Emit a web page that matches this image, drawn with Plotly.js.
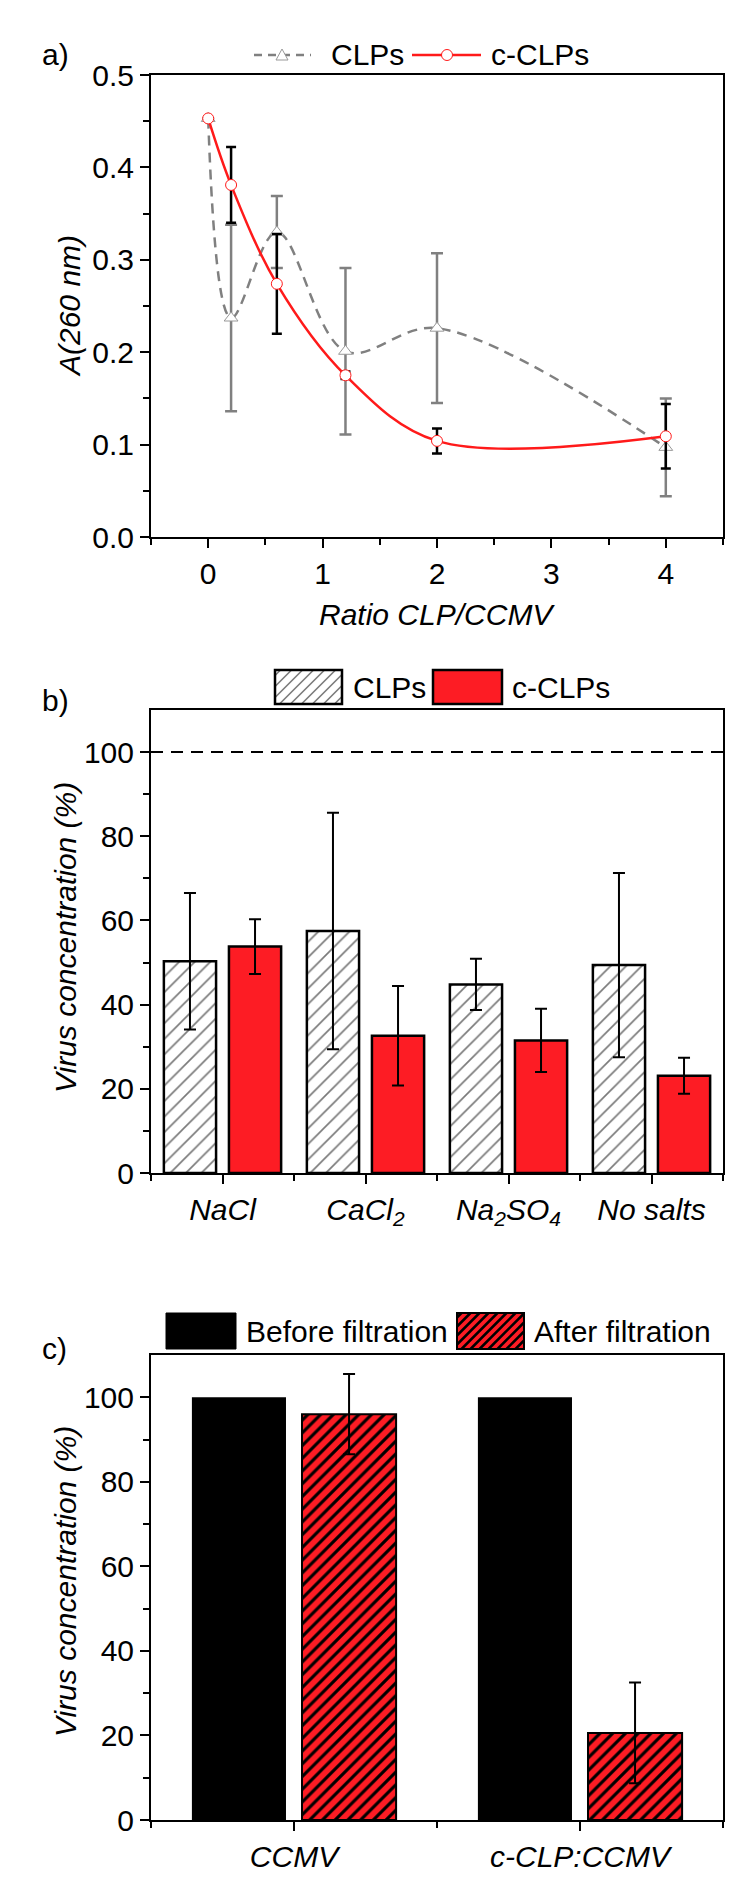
<!DOCTYPE html>
<html><head><meta charset="utf-8">
<script src="https://cdn.plot.ly/plotly-3.0.1.min.js"></script>
<style>html,body{margin:0;padding:0;background:#fff}</style>
</head><body><div id="chart" style="width:750px;height:1882px"></div>
<script>
// ---------- Panel a data ----------
const ratio = [0, 0.2, 0.6, 1.2, 2, 4];
const clpA = [0.453, 0.237, 0.330, 0.201, 0.226, 0.097];
const clpAErr = [0, 0.101, 0.039, 0.090, 0.081, 0.053];
const cclpA = [0.453, 0.381, 0.274, 0.175, 0.104, 0.109];
const cclpAErr = [0, 0.041, 0.054, 0.004, 0.0135, 0.035];
const ratioTicks = [0, 1, 2, 3, 4];
const ratioMinor = [-0.5, 0.5, 1.5, 2.5, 3.5, 4.5];
const absTicks = [0, 0.1, 0.2, 0.3, 0.4, 0.5];
const absMinor = [0.05, 0.15, 0.25, 0.35, 0.45];

// ---------- Panel b data ----------
const salts = ['<i>NaCl</i>', '<i>CaCl<sub>2</sub></i>', '<i>Na<sub>2</sub>SO<sub>4</sub></i>', '<i>No salts</i>'];
const clpB = [50.3, 57.5, 44.8, 49.4];
const clpBErr = [16.2, 28.1, 6.1, 21.9];
const cclpB = [53.8, 32.6, 31.5, 23.1];
const cclpBErr = [6.5, 11.8, 7.5, 4.3];
const refLevel = 100;

// ---------- Panel c data ----------
const samples = ['<i>CCMV</i>', '<i>c-CLP:CCMV</i>'];
const beforeF = [100, 100];
const afterF = [96.0, 20.6];
const afterFErr = [9.5, 11.9];

const pctTicks = [0, 20, 40, 60, 80, 100];
const pctMinor = [10, 30, 50, 70, 90];

// ---------- styling ----------
const W = 750, H = 1882;
const X = p => p / W, Y = p => 1 - p / H;
const RED = '#fd1c24';
const GRAY = '#808080';
const FONT = {family: 'Liberation Sans, Arial, sans-serif', size: 30, color: '#000'};
const xdom = [X(151), X(723)];
const domA = [Y(537), Y(75)], domB = [Y(1173), Y(710)], domC = [Y(1820), Y(1355)];

const idx = arr => arr.map((_, i) => i);

const traces = [
  {type: 'scatter', x: ratio, y: clpA, xaxis: 'x', yaxis: 'y', mode: 'lines+markers', name: 'CLPs',
   line: {color: GRAY, width: 2.5, dash: '10px,7px', shape: 'spline', smoothing: 1},
   marker: {symbol: 'triangle-up', size: 12, color: '#fff', line: {color: '#999', width: 1}},
   error_y: {type: 'data', array: clpAErr, color: GRAY, thickness: 2.5, width: 6}},
  {type: 'scatter', x: ratio, y: cclpA, xaxis: 'x', yaxis: 'y', mode: 'lines+markers', name: 'c-CLPs',
   line: {color: '#ff1a1a', width: 2.5, shape: 'spline', smoothing: 1},
   marker: {symbol: 'circle', size: 11, color: '#fff', line: {color: '#ff1a1a', width: 1}},
   error_y: {type: 'data', array: cclpAErr, color: '#000', thickness: 2.5, width: 5}},

  {type: 'bar', x: idx(salts), y: clpB, xaxis: 'x2', yaxis: 'y2', name: 'CLPs', width: 0.365, offset: -0.41,
   marker: {color: '#fff', line: {color: '#000', width: 2.5},
            pattern: {shape: '/', fgcolor: '#7a7a7a', bgcolor: '#fff', size: 11, solidity: 0.15}},
   error_y: {type: 'data', array: clpBErr, color: '#000', thickness: 2, width: 6}},
  {type: 'bar', x: idx(salts), y: cclpB, xaxis: 'x2', yaxis: 'y2', name: 'c-CLPs', width: 0.365, offset: 0.045,
   marker: {color: RED, line: {color: '#000', width: 2.5}},
   error_y: {type: 'data', array: cclpBErr, color: '#000', thickness: 2, width: 6}},

  {type: 'bar', x: idx(samples), y: beforeF, xaxis: 'x3', yaxis: 'y3', name: 'Before filtration', width: 0.329, offset: -0.357,
   marker: {color: '#000', line: {color: '#000', width: 0}}},
  {type: 'bar', x: idx(samples), y: afterF, xaxis: 'x3', yaxis: 'y3', name: 'After filtration', width: 0.329, offset: 0.028,
   marker: {color: RED, line: {color: '#000', width: 2},
            pattern: {shape: '/', fgcolor: '#000', bgcolor: RED, size: 9, solidity: 0.35}},
   error_y: {type: 'data', array: afterFErr, color: '#000', thickness: 2, width: 6}}
];

function mainAxis(o) {
  return Object.assign({showline: true, linewidth: 2, linecolor: '#000', mirror: true, showgrid: false,
    zeroline: false, ticks: 'outside', ticklen: 9, tickwidth: 2, tickcolor: '#000', tickfont: FONT,
    tickmode: 'array', fixedrange: true}, o);
}
function overlayAxis(o) {
  return Object.assign({showline: false, showgrid: false, zeroline: false, ticks: 'inside', ticklen: 7,
    tickwidth: 2, tickcolor: '#000', showticklabels: false, tickmode: 'array', fixedrange: true}, o);
}
const minorOut = vals => ({tickmode: 'array', tickvals: vals, ticks: 'outside', ticklen: 6, tickwidth: 2, tickcolor: '#000'});

const shapes = [
  {type: 'line', xref: 'x2 domain', x0: 0, x1: 1, yref: 'y2', y0: refLevel, y1: refLevel,
   line: {color: '#000', width: 2, dash: '12px,8px'}}
];
const annotations = [];

function txt(text, x, y, opt) {
  annotations.push(Object.assign({text: text, xref: 'paper', yref: 'paper', x: X(x), y: Y(y),
    xanchor: 'left', yanchor: 'middle', showarrow: false, font: FONT}, opt || {}));
}
function rect(x0, y0, x1, y1, fill, lineColor, lw) {
  shapes.push({type: 'rect', xref: 'paper', yref: 'paper', x0: X(x0), x1: X(x1), y0: Y(y1), y1: Y(y0),
    fillcolor: fill, line: {color: lineColor, width: lw}});
}
function hatch(x0, y0, x1, y1, step, color, lw) {
  for (let c = x0 + y0 + step / 2; c < x1 + y1; c += step) {
    const xa = Math.max(x0, c - y1), xb = Math.min(x1, c - y0);
    if (xb <= xa) continue;
    shapes.push({type: 'line', xref: 'paper', yref: 'paper', x0: X(xa), y0: Y(c - xa), x1: X(xb), y1: Y(c - xb),
      line: {color: color, width: lw}});
  }
}
function hline(x0, x1, y, color, lw, dash) {
  shapes.push({type: 'line', xref: 'paper', yref: 'paper', x0: X(x0), x1: X(x1), y0: Y(y), y1: Y(y),
    line: {color: color, width: lw, dash: dash || 'solid'}});
}

// panel labels
txt('a)', 40, 55); txt('b)', 40, 700); txt('c)', 40, 1348);
// axis titles
const IT = s => '<i>' + s + '</i>';
txt(IT('A(260 nm)'), 69, 306, {textangle: -90, xanchor: 'center'});
txt(IT('Ratio CLP/CCMV'), 437, 615, {xanchor: 'center'});
txt(IT('Virus concentration (%)'), 65, 938, {textangle: -90, xanchor: 'center'});
txt(IT('Virus concentration (%)'), 65, 1582, {textangle: -90, xanchor: 'center'});

// legend a
hline(254, 311, 55, GRAY, 2.5, '8px,6px');
shapes.push({type: 'path', xref: 'paper', yref: 'paper',
  path: `M ${X(282)} ${Y(49)} L ${X(276)} ${Y(60)} L ${X(288)} ${Y(60)} Z`, fillcolor: '#fff', line: {color: '#999', width: 1}});
txt('CLPs', 329, 55);
hline(412, 481, 55, '#ff1a1a', 2.5);
shapes.push({type: 'circle', xref: 'paper', yref: 'paper', x0: X(441.5), x1: X(452.5), y0: Y(60.5), y1: Y(49.5),
  fillcolor: '#fff', line: {color: '#ff1a1a', width: 1}});
txt('c-CLPs', 489, 55);

// legend b
rect(275, 670, 342, 704, '#fff', '#000', 0);
hatch(275, 670, 342, 704, 11, '#7a7a7a', 1.6);
rect(275, 670, 342, 704, 'rgba(0,0,0,0)', '#000', 2.5);
txt('CLPs', 351, 687);
rect(433, 670, 502, 704, RED, '#000', 2.5);
txt('c-CLPs', 510, 687);

// legend c
rect(166, 1313, 236, 1349, '#000', '#000', 1);
txt('Before filtration', 244, 1331);
rect(457, 1313, 524, 1349, RED, '#000', 0);
hatch(457, 1313, 524, 1349, 9, '#000', 2.5);
rect(457, 1313, 524, 1349, 'rgba(0,0,0,0)', '#000', 2);
txt('After filtration', 532, 1331);

const layout = {
  width: W, height: H, margin: {l: 0, r: 0, t: 0, b: 0}, paper_bgcolor: '#fff', plot_bgcolor: 'rgba(0,0,0,0)',
  showlegend: false, barmode: 'overlay', font: FONT,
  xaxis: mainAxis({domain: xdom, anchor: 'y', range: [-0.5, 4.5], tickvals: ratioTicks, minor: minorOut(ratioMinor)}),
  yaxis: mainAxis({domain: domA, anchor: 'x', range: [0, 0.5], tickvals: absTicks, tickformat: '.1f', minor: minorOut(absMinor)}),
  xaxis4: overlayAxis({overlaying: 'x', anchor: 'y', range: [-0.5, 4.5], tickvals: ratioTicks}),
  yaxis4: overlayAxis({overlaying: 'y', anchor: 'x', range: [0, 0.5], tickvals: absTicks}),

  xaxis2: mainAxis({domain: xdom, anchor: 'y2', range: [-0.5, 3.5], tickvals: idx(salts), ticktext: salts, minor: minorOut([-0.5, 0.5, 1.5, 2.5, 3.5])}),
  yaxis2: mainAxis({domain: domB, anchor: 'x2', range: [0, 110], tickvals: pctTicks, minor: minorOut(pctMinor)}),
  xaxis5: overlayAxis({overlaying: 'x2', anchor: 'y2', range: [-0.5, 3.5], tickvals: idx(salts)}),
  yaxis5: overlayAxis({overlaying: 'y2', anchor: 'x2', range: [0, 110], tickvals: pctTicks}),

  xaxis3: mainAxis({domain: xdom, anchor: 'y3', range: [-0.5, 1.5], tickvals: idx(samples), ticktext: samples, minor: minorOut([-0.5, 0.5, 1.5])}),
  yaxis3: mainAxis({domain: domC, anchor: 'x3', range: [0, 110], tickvals: pctTicks, minor: minorOut(pctMinor)}),
  xaxis6: overlayAxis({overlaying: 'x3', anchor: 'y3', range: [-0.5, 1.5], tickvals: idx(samples)}),
  yaxis6: overlayAxis({overlaying: 'y3', anchor: 'x3', range: [0, 110], tickvals: pctTicks}),

  shapes: shapes, annotations: annotations
};

Plotly.newPlot('chart', traces, layout, {displayModeBar: false, staticPlot: true});
</script>
</body></html>
